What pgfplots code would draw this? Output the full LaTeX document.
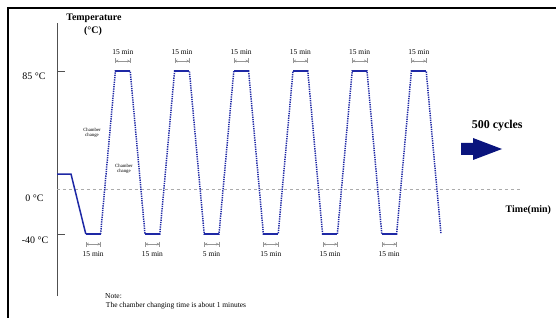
\documentclass[border=0pt]{standalone}
\usepackage{fontspec}
\setmainfont{Liberation Serif}
\usepackage{pgfplots}
\pgfplotsset{compat=1.18}
\usetikzlibrary{arrows.meta}
\definecolor{trace}{RGB}{30,40,165}
\definecolor{axisgray}{RGB}{80,80,80}
\definecolor{arrgray}{RGB}{150,150,150}
\definecolor{navy}{RGB}{10,20,125}
\tikzset{dw/.style={arrgray, line width=0.45bp,
   {Bar[width=5bp]Stealth[length=2.6bp,width=2.8bp,open]}-{Stealth[length=2.6bp,width=2.8bp,open]Bar[width=5bp]}},
  mn/.style={font=\fontsize{7.5}{9}\selectfont}}
\begin{document}
\begin{tikzpicture}
\begin{axis}[at={(57bp,22bp)}, anchor=south west, scale only axis,
  width=499bp, height=273bp,
  xmin=-0.946, xmax=32.77, ymin=-87.5, ymax=121.8,
  axis x line=none, axis y line=left,
  axis line style={-, draw=axisgray, line width=1bp},
  ytick={-40,85}, yticklabels={}, xtick=\empty,
  tick align=inside, major tick length=8bp,
  tick style={axisgray, line width=0.8bp},
  clip=false, unbounded coords=jump]
% reference dashed line
\addplot[arrgray!80, dashed, line width=0.6bp] coordinates {(-0.946,-5.5) (30.5,-5.5)};
% initial cool-down (solid)
\addplot[trace, line width=1.5bp] coordinates {(-0.946,6) (0,6) (1,-40)};
% chamber changes (dotted)
\addplot[trace, line width=1.5bp, dash pattern=on 1.3bp off 1.0bp] coordinates {
(2,-40)(3,85)(4,85)(5,-40)(6,-40)(7,85)(8,85)(9,-40)(10,-40)(11,85)(12,85)(13,-40)
(14,-40)(15,85)(16,85)(17,-40)(18,-40)(19,85)(20,85)(21,-40)(22,-40)(23,85)(24,85)(25,-40)};
% dwell periods (solid)
\addplot[trace, line width=1.7bp] coordinates {
(1,-40)(2,-40)(2,nan)(3,85)(4,85)(4,nan)(5,-40)(6,-40)(6,nan)(7,85)(8,85)(8,nan)
(9,-40)(10,-40)(10,nan)(11,85)(12,85)(12,nan)(13,-40)(14,-40)(14,nan)(15,85)(16,85)(16,nan)
(17,-40)(18,-40)(18,nan)(19,85)(20,85)(20,nan)(21,-40)(22,-40)(22,nan)(23,85)(24,85)};
% dwell annotations (top)
\draw[dw] (axis cs:3,92.7) -- (axis cs:4,92.7);   \node[mn] at (axis cs:3.5,99.8) {15 min};
\draw[dw] (axis cs:7,92.7) -- (axis cs:8,92.7);   \node[mn] at (axis cs:7.5,99.8) {15 min};
\draw[dw] (axis cs:11,92.7) -- (axis cs:12,92.7); \node[mn] at (axis cs:11.5,99.8) {15 min};
\draw[dw] (axis cs:15,92.7) -- (axis cs:16,92.7); \node[mn] at (axis cs:15.5,99.8) {15 min};
\draw[dw] (axis cs:19,92.7) -- (axis cs:20,92.7); \node[mn] at (axis cs:19.5,99.8) {15 min};
\draw[dw] (axis cs:23,92.7) -- (axis cs:24,92.7); \node[mn] at (axis cs:23.5,99.8) {15 min};
% dwell annotations (bottom)
\draw[dw] (axis cs:1,-47.7) -- (axis cs:2,-47.7);   \node[mn] at (axis cs:1.5,-55.3) {15 min};
\draw[dw] (axis cs:5,-47.7) -- (axis cs:6,-47.7);   \node[mn] at (axis cs:5.5,-55.3) {15 min};
\draw[dw] (axis cs:9,-47.7) -- (axis cs:10,-47.7);  \node[mn] at (axis cs:9.5,-55.3) {5 min};
\draw[dw] (axis cs:13,-47.7) -- (axis cs:14,-47.7); \node[mn] at (axis cs:13.5,-55.3) {15 min};
\draw[dw] (axis cs:17,-47.7) -- (axis cs:18,-47.7); \node[mn] at (axis cs:17.5,-55.3) {15 min};
\draw[dw] (axis cs:21,-47.7) -- (axis cs:22,-47.7); \node[mn] at (axis cs:21.5,-55.3) {15 min};
\node[font=\fontsize{4.8}{5.4}\selectfont, align=center] at (axis cs:1.42,37.5) {Chamber\\change};
\node[font=\fontsize{4.8}{5.4}\selectfont, align=center] at (axis cs:3.58,9.8) {Chamber\\change};
% axis texts
\node[font=\fontsize{10}{12}\selectfont] at (axis cs:-2.5,81.2) {85 °C};
\node[font=\fontsize{10}{12}\selectfont] at (axis cs:-2.47,-12.4) {0 °C};
\node[font=\fontsize{10}{12}\selectfont] at (axis cs:-2.43,-44.6) {-40 °C};
\node[font=\bfseries\fontsize{10}{12}\selectfont] at (axis cs:1.55,125.6) {Temperature};
\node[font=\bfseries\fontsize{10}{12}\selectfont] at (axis cs:1.49,115.7) {(°C)};
\node[font=\bfseries\fontsize{10}{12}\selectfont] at (axis cs:30.9,-21.6) {Time(min)};
\node[font=\bfseries\fontsize{12}{14}\selectfont] at (axis cs:28.8,42.8) {500 cycles};
\node[font=\fontsize{7.5}{9}\selectfont, anchor=west, inner sep=0pt] at (axis cs:2.3,-87.5) {Note:};
\node[font=\fontsize{7.5}{9}\selectfont, anchor=west, inner sep=0pt] at (axis cs:2.35,-95.2) {The chamber changing time is about 1 minutes};
\end{axis}
% frame
\draw[black, line width=1.6bp] (8bp,0bp) -- (8bp,310bp) -- (556bp,310bp);
% block arrow
\fill[navy] (461bp,163bp) -- (473bp,163bp) -- (473bp,158bp) -- (502bp,169bp) -- (473bp,180bp) -- (473bp,175bp) -- (461bp,175bp) -- cycle;
\pgfresetboundingbox
\path[use as bounding box] (0,0) rectangle (556bp,318bp);
\end{tikzpicture}
\end{document}
